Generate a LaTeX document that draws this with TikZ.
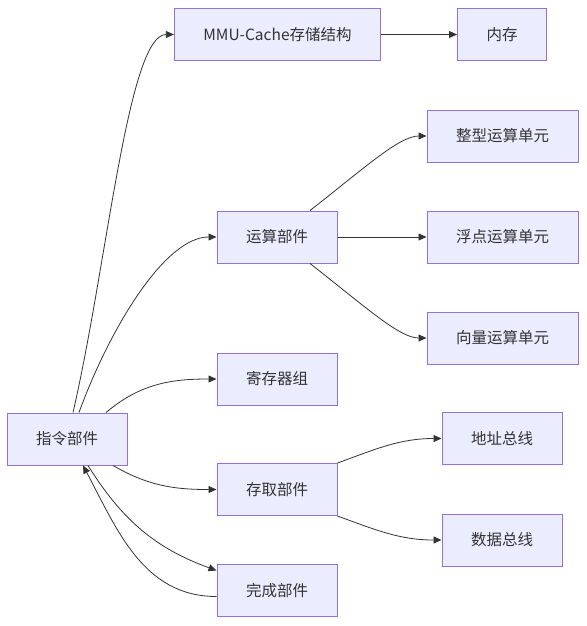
\documentclass[tikz,border=0pt]{standalone}
\usepackage{fontspec}
\setmainfont{Noto Sans CJK SC}
\usetikzlibrary{arrows.meta, positioning}
\definecolor{boxfill}{HTML}{ECECFF}
\definecolor{boxline}{HTML}{9370DB}
\definecolor{linkgray}{HTML}{333333}

\begin{document}
\begin{tikzpicture}[x=1pt, y=1pt, font=\fontsize{15.5}{18}\selectfont,
    unit/.style={draw=boxline, fill=boxfill, line width=1pt, inner xsep=29pt, minimum height=52pt, text=linkgray},
    link/.style={-{Triangle[length=8pt, width=7pt]}, linkgray, line width=0.8pt}]
\useasboundingbox (0,0) rectangle (586,-626);

%
\node[unit] (zl)  at (67,-439)    {指令部件};
\node[unit] (mmu) at (277.5,-34.5) {MMU-Cache存储结构};
\node[unit] (nc)  at (502,-34.5)  {内存};
\node[unit] (ys)  at (277,-237)   {运算部件};
\node[unit] (zx)  at (502.5,-136) {整型运算单元};
\node[unit] (fd)  at (502.5,-237) {浮点运算单元};
\node[unit] (xl)  at (502.5,-338) {向量运算单元};
\node[unit] (jcq) at (277,-379)   {寄存器组};
\node[unit] (cq)  at (277,-489.5) {存取部件};
\node[unit] (dz)  at (502,-438.5) {地址总线};
\node[unit] (sj)  at (502,-540)   {数据总线};
\node[unit] (wc)  at (277,-590.5) {完成部件};

%
\draw[link] ([xshift=6pt]zl.north) to[out=77, in=180, out looseness=1, in looseness=0.3] (mmu.west);
\draw[link] (mmu) -- (nc);
\draw[link] ([xshift=12pt]zl.north) to[out=70, in=180, in looseness=0.6] (ys.west);
\draw[link] ([xshift=39pt]zl.north) to[out=40, in=180] (jcq.west);
\draw[link] ([xshift=46pt]zl.south) to[out=-30, in=180] (cq.west);
\draw[link] ([xshift=21pt]zl.south) to[out=-58, in=160] ([yshift=20pt]wc.west);
\draw[link] ([yshift=-6pt]wc.west) to[out=180, in=-62] ([xshift=16pt]zl.south);

%
\draw[link] ([xshift=33pt]ys.north) to[out=38, in=180, out looseness=1.3, in looseness=0.5] (zx.west);
\draw[link] (ys) -- (fd);
\draw[link] ([xshift=33pt]ys.south) to[out=-38, in=180, out looseness=1.3, in looseness=0.5] (xl.west);
\draw[link] (cq.north east) to[out=20, in=180] (dz.west);
\draw[link] (cq.south east) to[out=-20, in=180] (sj.west);
\end{tikzpicture}
\end{document}
